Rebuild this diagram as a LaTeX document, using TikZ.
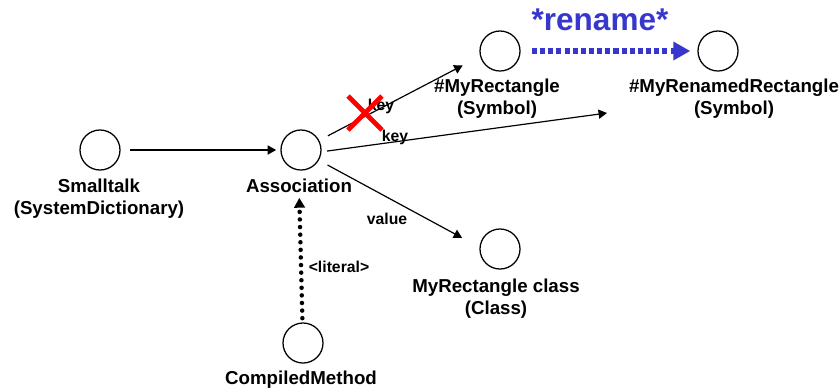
\documentclass[tikz,border=0pt]{standalone}
\usepackage{fontspec}
\setmainfont{Liberation Sans}
\usetikzlibrary{arrows.meta}
\definecolor{renameblue}{RGB}{55,55,205}
\begin{document}
\begin{tikzpicture}[x=0.025cm, y=-0.025cm, >={Triangle[length=6pt,width=6.5pt]},
        obj/.style={circle, draw, line width=0.9pt, minimum size=1cm, inner sep=0pt},
        objname/.style={font=\fontsize{13.3}{15.5}\selectfont\bfseries, align=center},
        lbl/.style={font=\fontsize{11.2}{13}\selectfont\bfseries},
        link/.style={->, line width=0.85pt, shorten <=7pt}]
    \useasboundingbox (0,0) rectangle (839,391);
    % ---- objects ----
    \node[obj] (st)    at (100,150) {};
    \node[obj] (assoc) at (301,150) {};
    \node[obj] (sym)   at (500,51)  {};
    \node[obj] (nsym)  at (718,51)  {};
    \node[obj] (cls)   at (500,249) {};
    \node[obj] (cm)    at (303,343) {};
    % ---- names ----
    \node[objname] (stname)    at (99,199)  {Smalltalk\\(SystemDictionary)};
    \node[objname] (assocname) at (299,186) {Association};
    \node[objname] (symname)   at (497,99)  {\#MyRectangle\\(Symbol)};
    \node[objname] (nsymname)  at (734,99)  {\#MyRenamedRectangle\\(Symbol)};
    \node[objname] (clsname)   at (496,299) {MyRectangle class\\(Class)};
    \node[objname] (cmname)    at (301,380) {CompiledMethod};
    % ---- references ----
    \coordinate (keyend) at (607,113);
    \draw[link, shorten >=3pt] (st) -- (assoc);
    \draw[link, shorten >=14pt] (assoc.28) -- (sym.195);
    \draw[link, shorten <=4pt] (assoc.-5) -- (keyend);
    \draw[link, shorten >=14pt] (assoc.-30) -- (cls.175);
    \draw[-{Triangle[length=7pt,width=7.5pt]}, line width=3.2pt, line cap=round,
          dash pattern=on 0pt off 5.4pt, shorten <=3pt] (cm) -- (assocname);
    \node[lbl] (key1) at (381,106) {key};
    \node[lbl] (key2) at (395,137) {key};
    \node[lbl] (val)  at (387,219) {value};
    \node[lbl] (lit)  at (339,267) {<literal>};
    % ---- old key crossed out ----
    \node (cross) at (365,113) {};
    \draw[red, line width=3.4pt] (cross.center) ++(-17,-17) -- ++(34,34)
          (cross.center) ++(-17,17) -- ++(34,-34);
    % ---- rename ----
    \draw[renameblue, line width=3.8pt, dash pattern=on 3.6pt off 2.2pt,
          -{Triangle[length=12pt,width=12.5pt]}, shorten <=8pt, shorten >=5pt] (sym) -- (nsym);
    \node[font=\fontsize{22.4}{26}\selectfont\bfseries, text=renameblue] (ren) at (600,20) {*rename*};
\end{tikzpicture}
\end{document}
